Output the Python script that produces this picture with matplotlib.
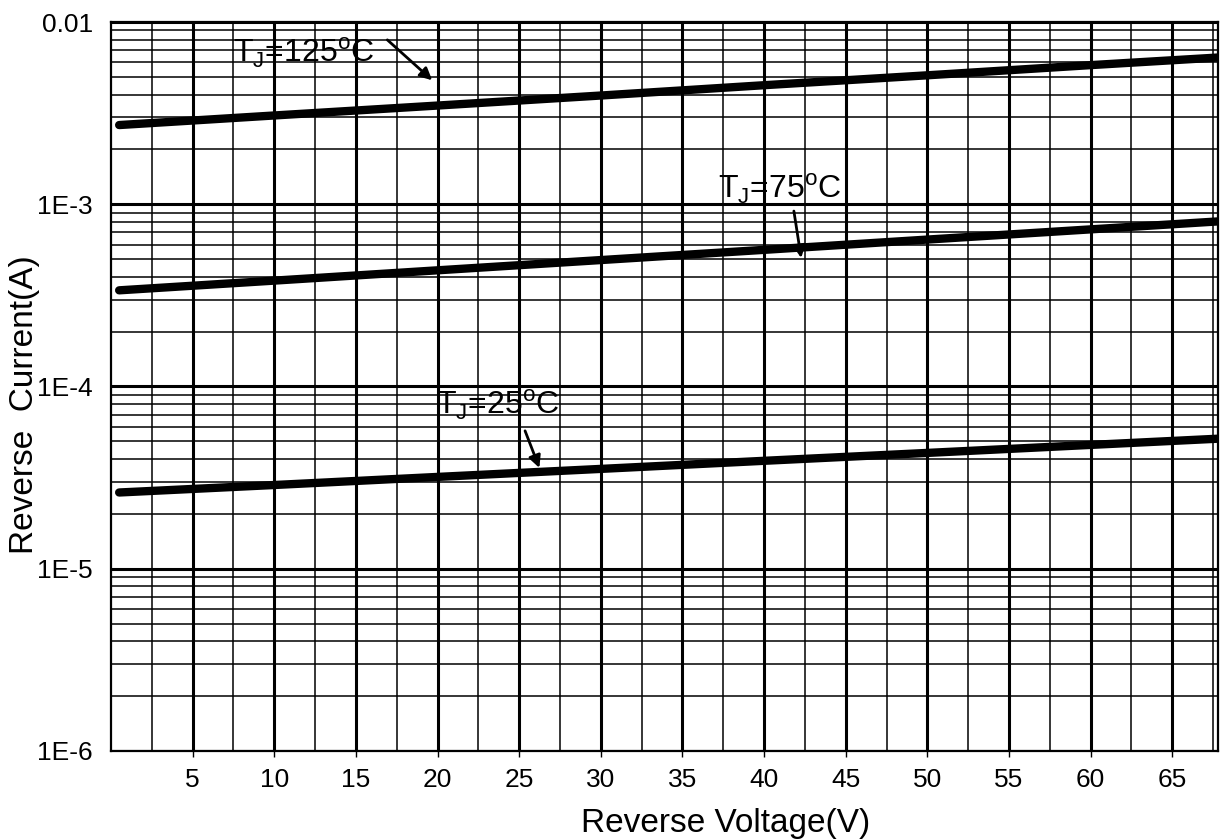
import matplotlib
matplotlib.use("Agg")
import matplotlib.pyplot as plt
from matplotlib.ticker import MultipleLocator, FixedLocator, NullFormatter, LogLocator

plt.rcParams['font.family'] = ['Liberation Sans', 'DejaVu Sans']
plt.rcParams['mathtext.fontset'] = 'custom'
plt.rcParams['mathtext.rm'] = 'Liberation Sans'

# Data
voltage = [0.5, 10, 20, 30, 40, 50, 60, 68]
i_125 = [2.72e-3, 3.07e-3, 3.48e-3, 3.95e-3, 4.50e-3, 5.10e-3, 5.80e-3, 6.40e-3]
i_75 = [3.37e-4, 3.81e-4, 4.34e-4, 4.94e-4, 5.62e-4, 6.40e-4, 7.28e-4, 8.07e-4]
i_25 = [2.62e-5, 2.88e-5, 3.19e-5, 3.53e-5, 3.91e-5, 4.32e-5, 4.78e-5, 5.18e-5]

x_ticks = [5, 10, 15, 20, 25, 30, 35, 40, 45, 50, 55, 60, 65]
y_ticks = [1e-6, 1e-5, 1e-4, 1e-3, 1e-2]
y_ticklabels = ["1E-6", "1E-5", "1E-4", "1E-3", "0.01"]

fig = plt.figure(figsize=(12.21, 8.40), dpi=100)
ax = fig.add_axes([0.0909, 0.106, 0.9066, 0.8678])

ax.set_yscale('log')
ax.set_xlim(0, 67.8)
ax.set_ylim(1e-6, 1e-2)

# grid
ax.xaxis.set_major_locator(FixedLocator(x_ticks))
ax.xaxis.set_minor_locator(MultipleLocator(2.5))
ax.yaxis.set_major_locator(FixedLocator(y_ticks))
ax.yaxis.set_minor_locator(LogLocator(base=10, subs=range(2, 10)))
ax.yaxis.set_minor_formatter(NullFormatter())
ax.set_yticklabels(y_ticklabels)
ax.set_xticklabels([str(t) for t in x_ticks])

ax.grid(True, which='major', color='black', linewidth=2.2)
ax.grid(True, which='minor', color='black', linewidth=1.1)
ax.set_axisbelow(True)

for s in ax.spines.values():
    s.set_linewidth(1.6)

ax.tick_params(axis='x', which='major', direction='out', length=4, width=1, labelsize=19, pad=8)
ax.tick_params(axis='y', which='major', length=0, labelsize=19, pad=13)
ax.tick_params(which='minor', length=0)

for ys in (i_125, i_75, i_25):
    ax.plot(voltage, ys, color='black', linewidth=6, solid_capstyle='round', zorder=3)

arrow = dict(arrowstyle='-|>', color='black', lw=2, mutation_scale=18)
lab = r'T$_{\mathrm{J}}$=%s$^{\mathrm{o}}$C'
ax.text(7.5, 6.03e-3, lab % '125', fontsize=23, ha='left', va='baseline', zorder=4)
ax.annotate('', xy=(19.8, 4.68e-3), xytext=(16.8, 8.17e-3), arrowprops=arrow, zorder=4)

ax.text(37.2, 1.08e-3, lab % '75', fontsize=23, ha='left', va='baseline', zorder=4)
ax.annotate('', xy=(42.3, 4.9e-4), xytext=(41.8, 9.5e-4), arrowprops=arrow, zorder=4)

ax.text(19.9, 7.0e-5, lab % '25', fontsize=23, ha='left', va='baseline', zorder=4)
ax.annotate('', xy=(26.3, 3.46e-5), xytext=(25.3, 5.9e-5), arrowprops=arrow, zorder=4)

fig.text(726 / 1221, 1 - 832 / 840, 'Reverse Voltage(V)', fontsize=24, ha='center', va='baseline')
fig.text(25 / 1221, 1 - 405 / 840, 'Reverse  Current(A)', fontsize=24, rotation=90,
         ha='center', va='center')

fig.savefig('out.png', dpi=100)
